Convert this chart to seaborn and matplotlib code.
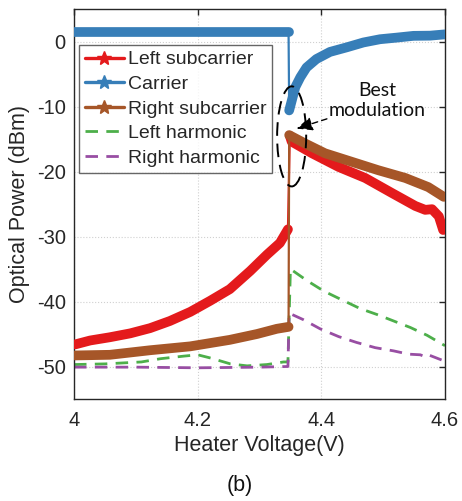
import numpy as np
import pandas as pd
import seaborn as sns
import matplotlib.pyplot as plt
from matplotlib.lines import Line2D
from matplotlib.patches import Ellipse

# ---------------- data ----------------
carrier_v_pre = [4.0, 4.1, 4.2, 4.3, 4.347]
carrier_p_pre = [1.4, 1.4, 1.4, 1.4, 1.4]
carrier_v_post = [4.348, 4.358, 4.366, 4.376, 4.392, 4.414, 4.441, 4.468, 4.495, 4.522, 4.549, 4.576, 4.6]
carrier_p_post = [-10.6, -7.0, -5.5, -4.0, -2.7, -1.6, -0.9, -0.15, 0.35, 0.6, 0.87, 0.9, 1.1]

left_v_pre = [4.002, 4.026, 4.058, 4.091, 4.123, 4.155, 4.188, 4.22, 4.252, 4.285, 4.312, 4.333, 4.346]
left_p_pre = [-46.6, -46.0, -45.5, -44.9, -44.1, -43.0, -41.6, -39.9, -38.1, -35.3, -32.8, -31.0, -28.9]
left_v_post = [4.349, 4.352, 4.385, 4.428, 4.471, 4.514, 4.552, 4.568, 4.579, 4.59, 4.597]
left_p_post = [-14.5, -15.4, -17.2, -19.3, -21.0, -23.3, -25.3, -25.9, -25.8, -26.9, -29.0]

right_v_pre = [4.002, 4.058, 4.123, 4.188, 4.252, 4.296, 4.328, 4.347]
right_p_pre = [-48.3, -48.2, -47.5, -46.9, -45.9, -45.0, -44.2, -43.9]
right_v_post = [4.348, 4.374, 4.406, 4.449, 4.492, 4.536, 4.573, 4.598]
right_p_post = [-14.4, -15.7, -17.2, -18.5, -19.8, -21.0, -22.4, -23.9]

lharm_v = [4.0, 4.05, 4.109, 4.14, 4.178, 4.2, 4.221, 4.253, 4.28, 4.312, 4.339, 4.346,
           4.35, 4.377, 4.404, 4.43, 4.463, 4.49, 4.517, 4.544, 4.571, 4.6]
lharm_p = [-49.7, -49.6, -49.3, -48.8, -48.4, -48.2, -48.7, -49.6, -49.9, -49.7, -49.3, -49.3,
           -35.0, -36.8, -38.4, -39.6, -41.1, -42.0, -43.0, -44.0, -45.2, -46.8]

rharm_v = [4.0, 4.1, 4.2, 4.3, 4.346,
           4.348, 4.371, 4.398, 4.428, 4.457, 4.487, 4.517, 4.541, 4.56, 4.568, 4.573, 4.6]
rharm_p = [-50.1, -50.1, -50.2, -50.1, -50.0,
           -41.8, -42.8, -44.2, -45.4, -46.3, -47.1, -47.6, -48.1, -48.2, -48.5, -48.2, -49.2]

labels = ["Left subcarrier", "Carrier", "Right subcarrier", "Left harmonic", "Right harmonic"]
x_ticks = [4.0, 4.2, 4.4, 4.6]
x_ticklabels = ["4", "4.2", "4.4", "4.6"]
y_ticks = [0, -10, -20, -30, -40, -50]

# ---------------- style ----------------
sns.set_theme(style="white")
plt.rcParams["font.family"] = ["Liberation Sans", "DejaVu Sans"]
plt.rcParams["axes.unicode_minus"] = False
pal = sns.color_palette("Set1")
c_red, c_blue, c_green, c_purple, c_brown = pal[0], pal[1], pal[2], pal[3], pal[6]

fig = plt.figure(figsize=(4.62, 5.01), dpi=100)
ax = fig.add_axes([74 / 462, 1 - 399 / 501, (445 - 74) / 462, (399 - 9) / 501])

BAND = 7.0
THIN = 1.6

def solid_series(vpre, ppre, vpost, ppost, color, zo):
    # thin connecting line across the jump
    sns.lineplot(x=vpre + vpost, y=ppre + ppost, color=color, lw=THIN, sort=False,
                 estimator=None, ax=ax, zorder=zo)
    for v, p in ((vpre, ppre), (vpost, ppost)):
        sns.lineplot(x=v, y=p, color=color, lw=BAND, sort=False, estimator=None, ax=ax,
                     zorder=zo, solid_capstyle="round", solid_joinstyle="round")

sns.lineplot(x=lharm_v, y=lharm_p, color=c_green, lw=2.0, sort=False, estimator=None,
             ax=ax, zorder=2).lines[-1].set_dashes([4.5, 3])
sns.lineplot(x=rharm_v, y=rharm_p, color=c_purple, lw=2.0, sort=False, estimator=None,
             ax=ax, zorder=2).lines[-1].set_dashes([4.5, 3])
solid_series(left_v_pre, left_p_pre, left_v_post, left_p_post, c_red, 3)
solid_series(right_v_pre, right_p_pre, right_v_post, right_p_post, c_brown, 4)
solid_series(carrier_v_pre, carrier_p_pre, carrier_v_post, carrier_p_post, c_blue, 5)

# axes
ax.set_xlim(4.0, 4.6)
ax.set_ylim(-55, 5)
ax.set_xticks(x_ticks)
ax.set_xticklabels(x_ticklabels)
ax.set_yticks(y_ticks)
ax.tick_params(direction="in", length=4, width=1, top=True, right=True,
               labelsize=14.5, colors="#262626", pad=6)
ax.tick_params(axis="x", pad=9)
for s in ax.spines.values():
    s.set_color("#262626")
    s.set_linewidth(1.0)
ax.grid(True, linestyle=":", color="#d0d0d0", lw=0.8)
ax.set_axisbelow(True)
ax.set_xlabel("Heater Voltage(V)", fontsize=15.5, color="#262626", labelpad=3)
ax.set_ylabel("Optical Power (dBm)", fontsize=15.5, color="#262626", labelpad=5)

# ellipse + annotation
ell = Ellipse((4.352, -14.6), width=0.047, height=15.4, fill=False, edgecolor="black",
              lw=1.4, linestyle=(0, (7, 4)), zorder=6)
ax.add_patch(ell)
ax.annotate("", xy=(4.360, -13.4), xytext=(4.409, -11.9),
            arrowprops=dict(arrowstyle="-|>,head_length=0.8,head_width=0.35", color="black",
                            lw=1.0, linestyle=(0, (4, 3)), shrinkA=0, shrinkB=0), zorder=7)
ax.text(4.49, -9.1, "Best\nmodulation", ha="center", va="center", fontsize=14,
        family="Lato", linespacing=1.2, color="#111111", zorder=7)

# legend
handles = [
    Line2D([], [], color=c_red, lw=2.4, marker="*", ms=10),
    Line2D([], [], color=c_blue, lw=2.4, marker="*", ms=10),
    Line2D([], [], color=c_brown, lw=2.4, marker="*", ms=10),
    Line2D([], [], color=c_green, lw=2.0, dashes=[4.5, 3]),
    Line2D([], [], color=c_purple, lw=2.0, dashes=[4.5, 3]),
]
leg = ax.legend(handles, labels, loc="upper left", bbox_to_anchor=(5 / 371, 1 - 36 / 390),
                fontsize=14, frameon=True, fancybox=False, edgecolor="#404040",
                handlelength=2.0, handletextpad=0.2, labelspacing=0.36, borderpad=0.3,
                borderaxespad=0.0)
leg.get_frame().set_linewidth(1.0)
leg.set_zorder(8)

fig.text(240 / 462, 1 - 485 / 501, "(b)", ha="center", va="center", fontsize=15.5,
         color="#111111")

fig.savefig("out.png", dpi=100)
